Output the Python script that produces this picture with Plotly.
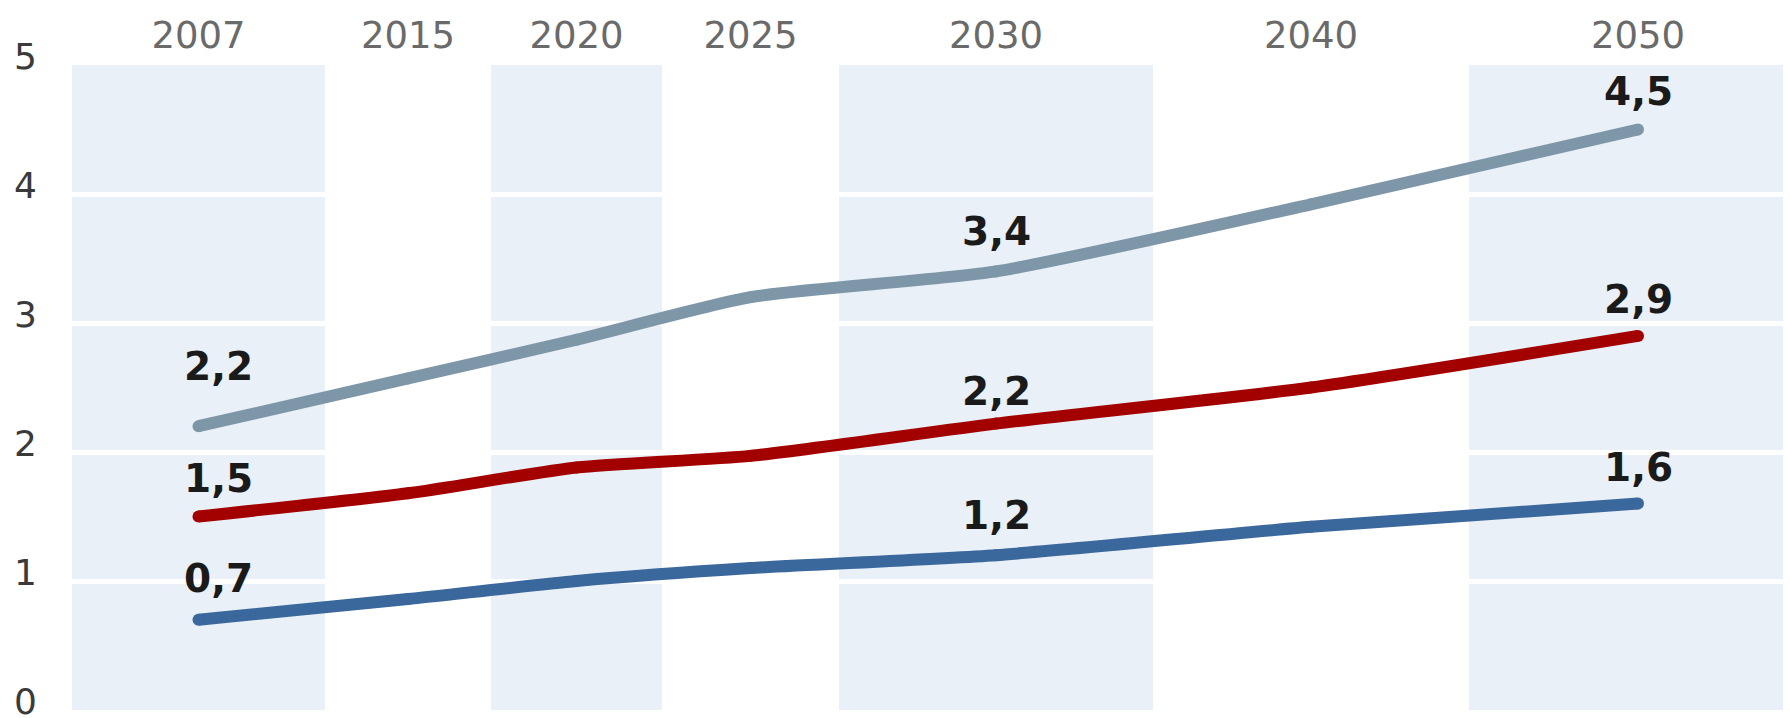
import plotly.graph_objects as go

# ---------------- data ----------------
years = ["2007", "2015", "2020", "2025", "2030", "2040", "2050"]
series_high = [2.2, 2.57, 2.87, 3.2, 3.4, 3.92, 4.5]
series_mid = [1.5, 1.68, 1.88, 1.97, 2.22, 2.5, 2.9]
series_low = [0.7, 0.86, 1.0, 1.1, 1.2, 1.42, 1.6]
y_ticks = [0, 1, 2, 3, 4, 5]
labelled_idx = [0, 4, 6]

# ---------------- layout / style ----------------
W, H = 1790, 718
M_L, M_R, M_T, M_B = 72, 7, 65, 8
col_widths = [253, 166, 171, 177, 314, 316, 338]   # uneven column layout of the original
shaded_cols = [0, 2, 4, 6]
band_color = "#e9f0f7"
colors = {"high": "#7e97a8", "mid": "#a30000", "low": "#3a679c"}
line_w = 12

edges = [0]
for w in col_widths:
    edges.append(edges[-1] + w)
centers = [(edges[i] + edges[i + 1]) / 2 for i in range(len(col_widths))]
x_max = W - M_L - M_R

fig = go.Figure()

for c in shaded_cols:
    fig.add_shape(type="rect", xref="x", yref="y", x0=edges[c], x1=min(edges[c + 1], x_max),
                  y0=0, y1=5, fillcolor=band_color, line_width=0, layer="below")

series = [("high", series_high), ("mid", series_mid), ("low", series_low)]
for key, vals in series:
    fig.add_trace(go.Scatter(
        x=centers, y=vals, mode="lines+markers",
        line=dict(color=colors[key], width=line_w, shape="spline", smoothing=0.6),
        marker=dict(color=colors[key], size=line_w),
        hoverinfo="skip", showlegend=False, cliponaxis=False,
    ))

def fmt(v):
    return f"{v:.1f}".replace(".", ",")

label_shift = {
    ("high", 0): (20, 60), ("mid", 0): (20, 38), ("low", 0): (20, 41),
    ("high", 4): (0, 40), ("mid", 4): (0, 32), ("low", 4): (0, 40),
    ("high", 6): (0, 38), ("mid", 6): (0, 36), ("low", 6): (0, 36),
}
for key, vals in series:
    for i in labelled_idx:
        xs, ys = label_shift[(key, i)]
        fig.add_annotation(
            x=centers[i], y=vals[i], xref="x", yref="y",
            text=f"<b>{fmt(vals[i])}</b>", showarrow=False,
            xshift=xs, yshift=ys, yanchor="middle",
            font=dict(family="DejaVu Sans", size=39, color="#1a1a1a"),
        )

fig.update_layout(
    width=W, height=H,
    margin=dict(l=M_L, r=M_R, t=M_T, b=M_B, autoexpand=False),
    paper_bgcolor="white", plot_bgcolor="white",
    xaxis=dict(
        range=[0, x_max], side="top", tickmode="array",
        tickvals=centers, ticktext=years, showgrid=False, zeroline=False,
        ticks="", showline=False, ticklabelstandoff=9, automargin=False,
        tickfont=dict(family="DejaVu Sans", size=37, color="#6a6a6a"),
        fixedrange=True,
    ),
    yaxis=dict(
        range=[0, 5], tickmode="array", tickvals=y_ticks,
        ticktext=[str(t) for t in y_ticks],
        showgrid=True, gridcolor="white", gridwidth=5, zeroline=False,
        ticks="", showline=False, ticklabelstandoff=34, ticklabelshift=-9,
        ticklabeloverflow="allow", automargin=False,
        tickfont=dict(family="DejaVu Sans", size=36, color="#3a3a3a"),
        fixedrange=True,
    ),
)

fig.write_html(
    "out.html",
    config={"displayModeBar": False},
    post_script="document.body.style.margin='0';document.body.style.padding='0';",
)
